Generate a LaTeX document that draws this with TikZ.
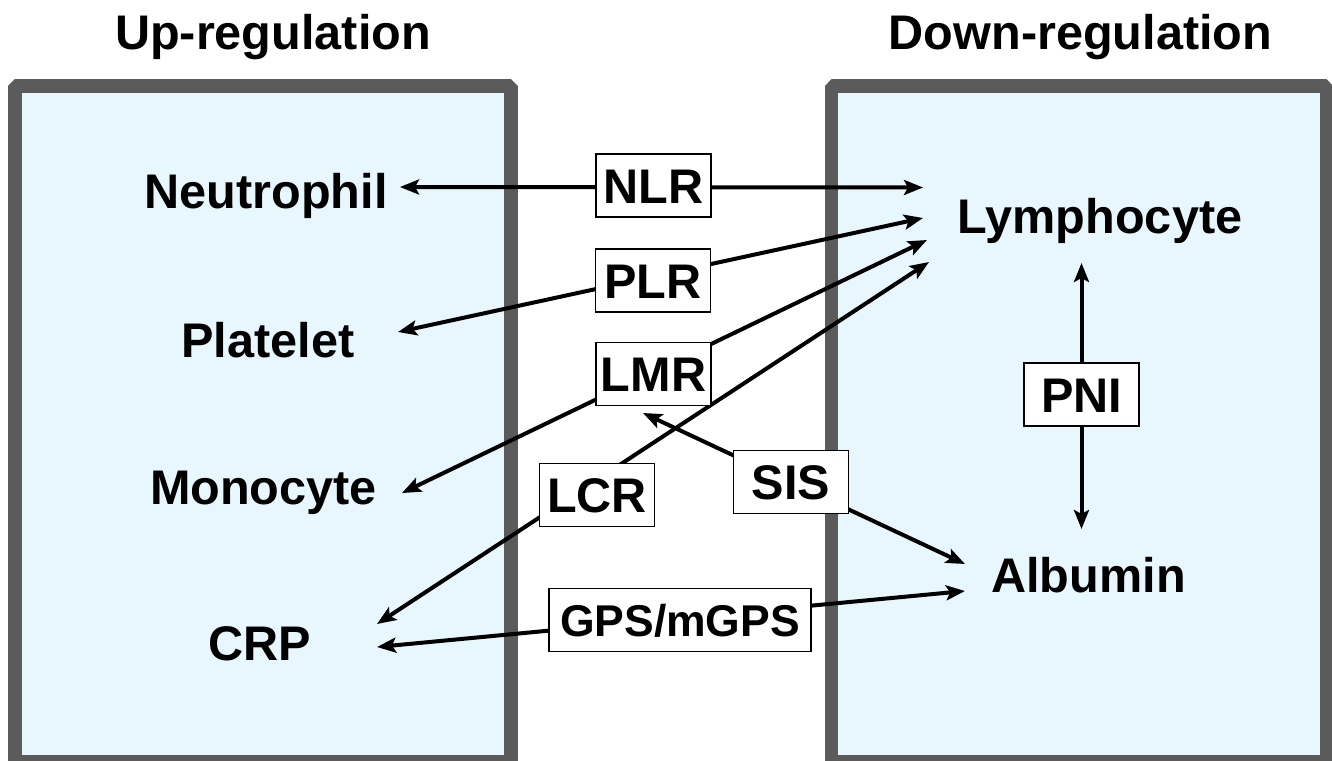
\documentclass[tikz,border=0pt]{standalone}
\usepackage{fontspec}
\setmainfont{Liberation Sans}
\usetikzlibrary{arrows.meta}
\definecolor{panelfill}{HTML}{E8F6FD}
\definecolor{panelline}{HTML}{5B5B5B}
\begin{document}
\begin{tikzpicture}[x=1pt,y=-1pt,
  panel/.style={draw=panelline, fill=panelfill, line width=13.5pt, line join=bevel},
  lab/.style={font=\fontsize{48.6}{58}\selectfont\bfseries, inner sep=0pt, anchor=base},
  ratio/.style={draw=black, line width=1.6pt, fill=white,
    font=\fontsize{48.6}{58}\selectfont\bfseries, inner sep=0pt,
    minimum width=115pt, minimum height=63pt, text height=35pt, text depth=0pt},
  tip/.style={Stealth[length=19pt,width=15pt,inset=4pt]},
  conn/.style={line width=4pt, {Stealth[length=19pt,width=15pt,inset=4pt]}-{Stealth[length=19pt,width=15pt,inset=4pt]}}]
\useasboundingbox (0,0) rectangle (1332,760);
% panels
\draw[panel] (15,86) rectangle (511,762);
\draw[panel] (831.5,86) rectangle (1326.5,762);
% titles
\node[lab] (up) at (273,49) {Up-regulation};
\node[lab] (down) at (1080.5,49) {Down-regulation};
% markers
\node[lab] (neut) at (266,208) {Neutrophil};
\node[lab] (plat) at (268,357) {Platelet};
\node[lab] (mono) at (263.5,504) {Monocyte};
\node[lab] (crp) at (259.5,660) {CRP};
\node[lab] (lymph) at (1100,233) {Lymphocyte};
\node[lab] (alb) at (1088.5,592) {Albumin};
% connector ends
\coordinate (nlrL) at (400,187);  \coordinate (nlrR) at (923,187.5);
\coordinate (plrL) at (398,332);  \coordinate (plrR) at (923,218);
\coordinate (lmrL) at (402,493);  \coordinate (lmrR) at (927,240);
\coordinate (lcrL) at (377,624);  \coordinate (lcrR) at (929,262);
\coordinate (sisL) at (643,413);  \coordinate (sisR) at (965,564);
\coordinate (gpsL) at (377,647);  \coordinate (gpsR) at (965,591);
\coordinate (pniT) at (1081.5,263); \coordinate (pniB) at (1081.5,529);
% connectors
\draw[conn] (nlrL) -- (nlrR);
\draw[conn] (plrL) -- (plrR);
\draw[conn] (lmrL) -- (lmrR);
\draw[conn] (lcrL) -- (lcrR);
\draw[conn] (sisL) -- (sisR);
\draw[conn] (gpsL) -- (gpsR);
\draw[conn] (pniT) -- (pniB);
% ratio boxes
\node[ratio] (NLR) at (653.5,185.5) {NLR};
\node[ratio] (PLR) at (653,280.5) {PLR};
\node[ratio] (LMR) at (653.5,374) {LMR};
\node[ratio] (LCR) at (597,495) {LCR};
\node[ratio] (SIS) at (791,482) {SIS};
\node[ratio, minimum width=262pt, font=\fontsize{44.5}{54}\selectfont\bfseries, text height=32pt] (GPS) at (680,620) {GPS/mGPS};
\node[ratio] (PNI) at (1081.5,394.5) {PNI};
\end{tikzpicture}
\end{document}
